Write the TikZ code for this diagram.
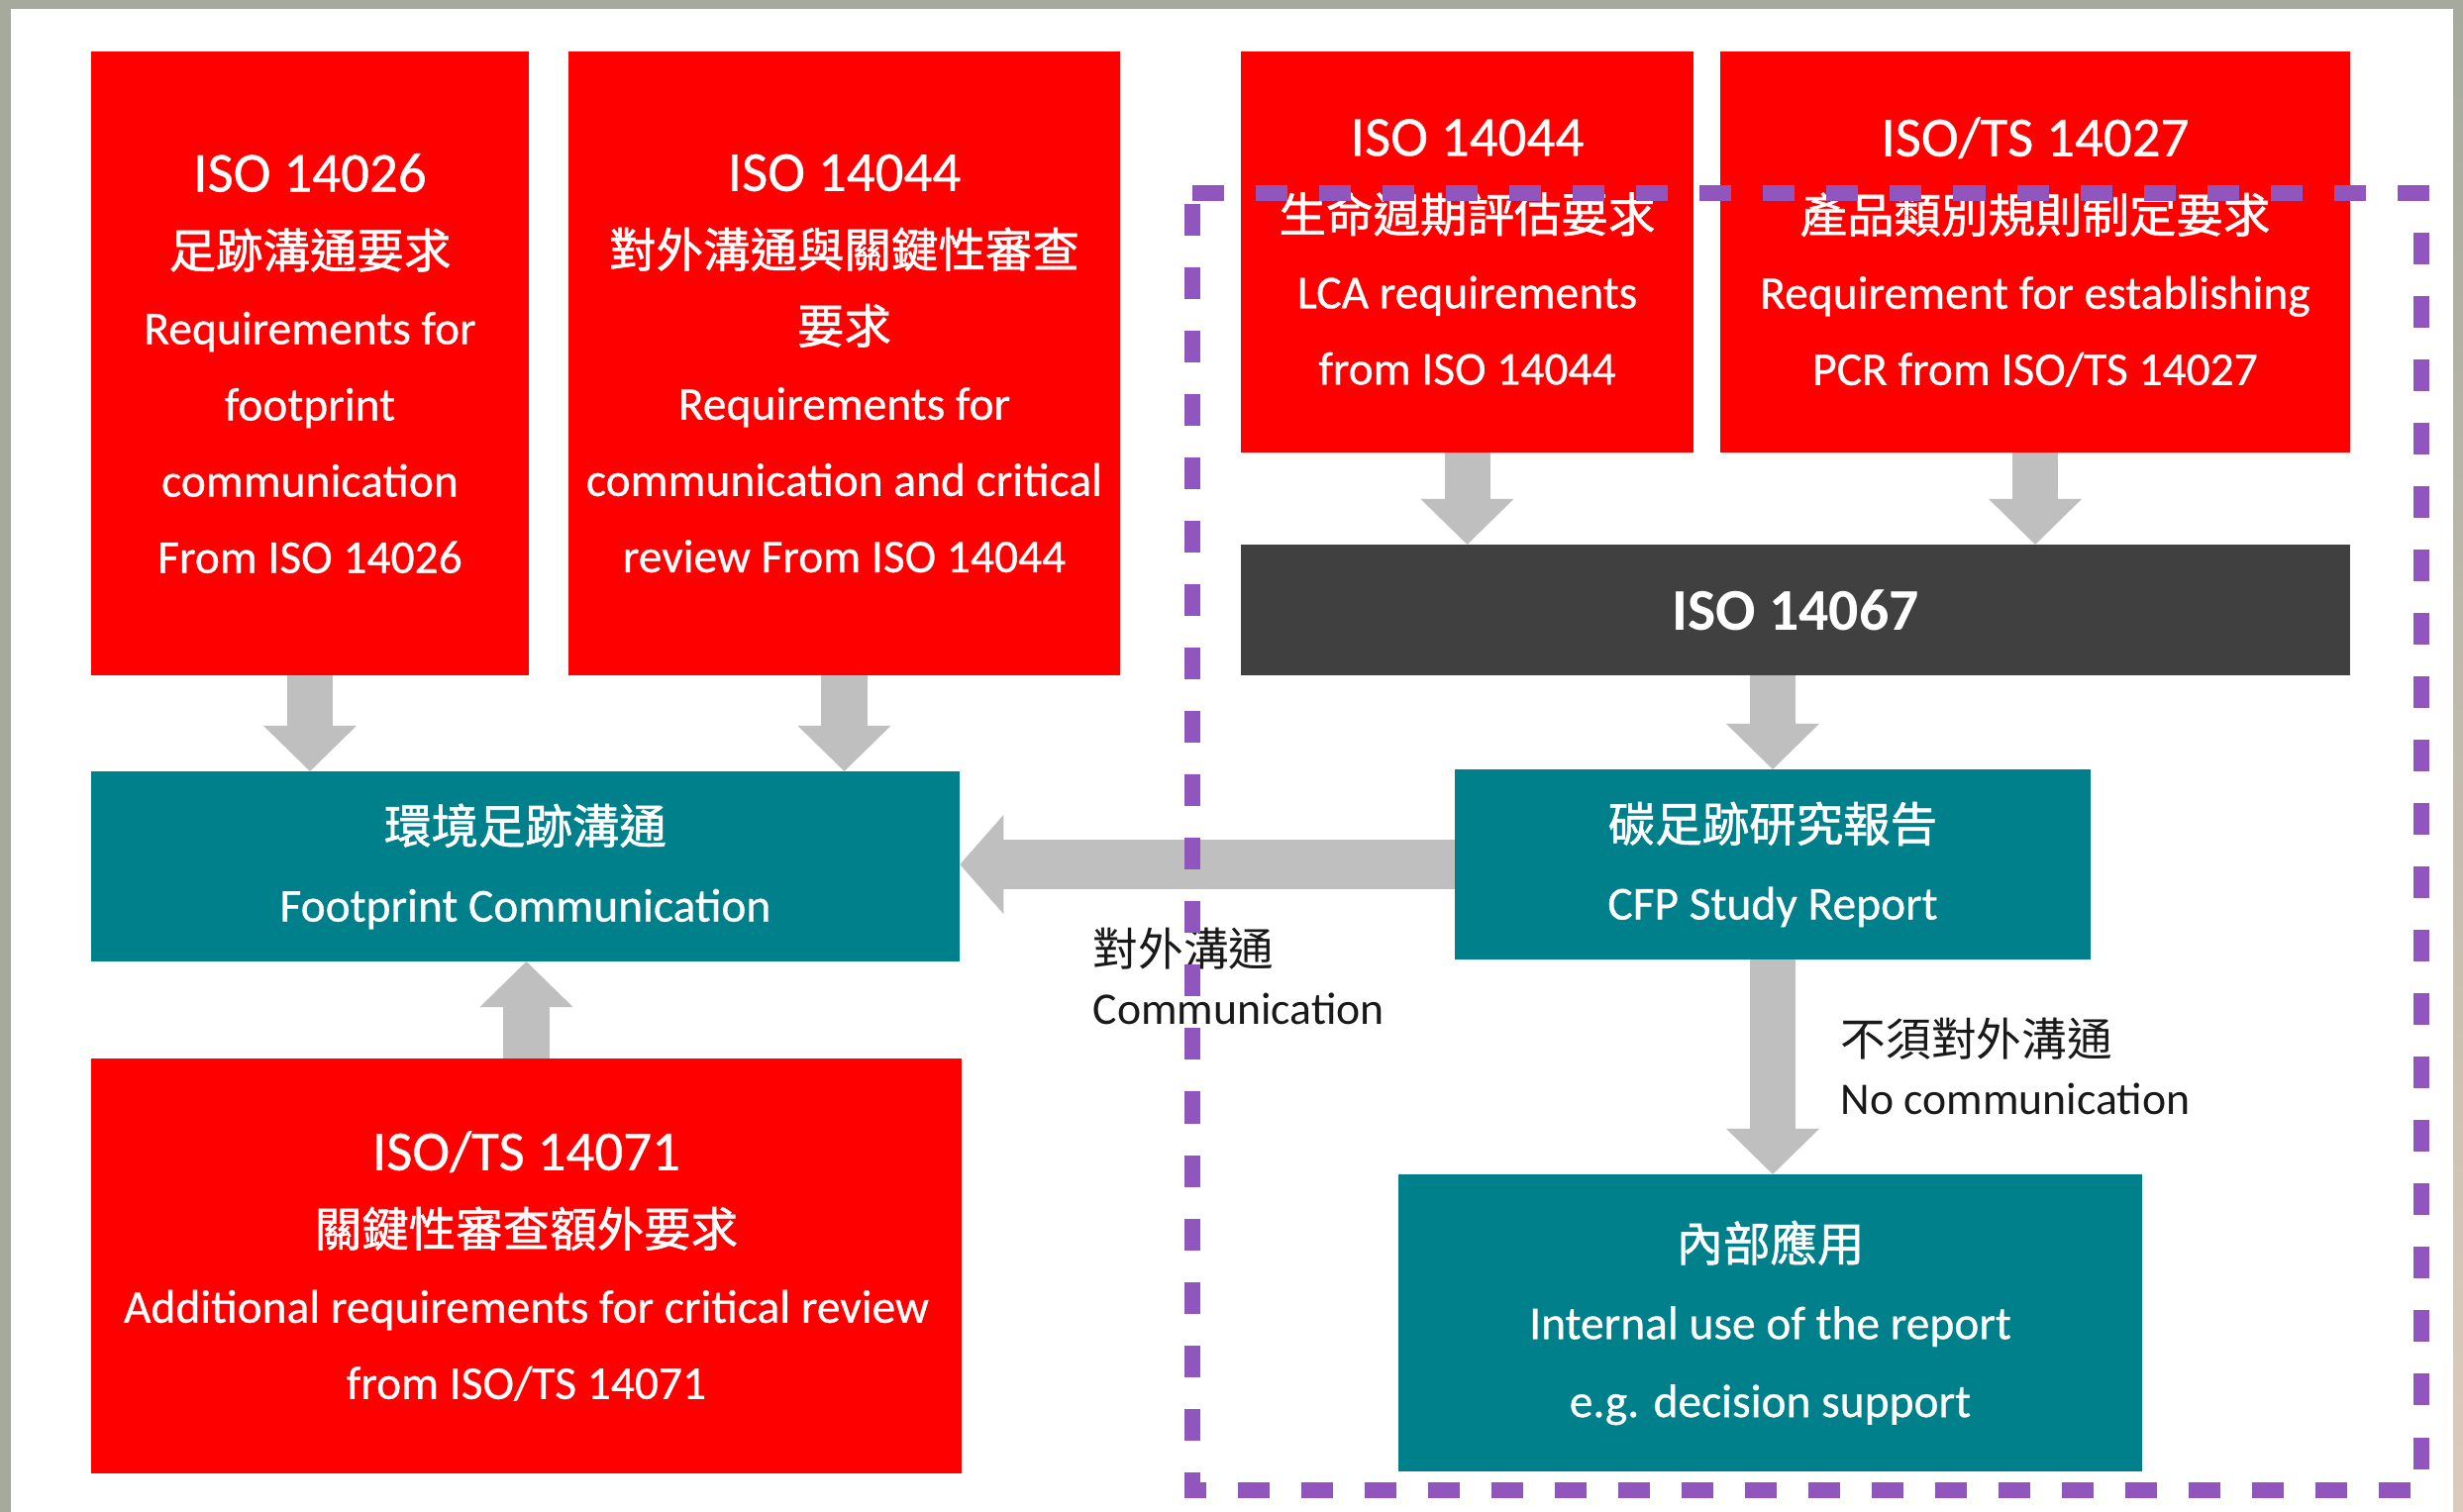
\documentclass[tikz,border=0pt]{standalone}
\usepackage{fontspec}
\setmainfont{Carlito}
\newfontfamily\cjkfont{Noto Sans CJK TC}
\newfontfamily\cjkboxfont{Noto Sans CJK TC}[FakeBold=1.2]
\newfontfamily\boxlatin{Carlito}[FakeBold=0.6]
\usetikzlibrary{arrows.meta}
\definecolor{isored}{HTML}{FE0000}
\definecolor{isoteal}{HTML}{00808A}
\definecolor{isodark}{HTML}{404040}
\definecolor{arrgray}{HTML}{BFBFBF}
\definecolor{frameviolet}{HTML}{9155BE}
\definecolor{bggray}{HTML}{A5AA9C}
\definecolor{bgbeige}{HTML}{DCCBBD}
\newcommand\isottl[1]{{\fontsize{16.2}{21.9}\selectfont #1}}
\newcommand\zhtxt[1]{{\cjkfont #1}}
\newcommand\zhbox[1]{{\cjkboxfont #1}}
\tikzset{
  box/.style={inner sep=0pt, outer sep=0pt, text=white, align=center,
    font=\boxlatin\fontsize{13.5}{21.9}\selectfont},
  redbox/.style={box, fill=isored},
  tealbox/.style={box, fill=isoteal, font=\boxlatin\fontsize{13.5}{22.4}\selectfont},
  darkbox/.style={box, fill=isodark, font=\fontsize{17}{21.9}\selectfont\bfseries},
  flow/.style={draw=arrgray, line width=0.46cm,
    -{Triangle[width=0.94cm,length=0.46cm,line width=0pt]}},
  bigflow/.style={draw=arrgray, line width=0.50cm,
    -{Triangle[width=1.00cm,length=0.44cm,line width=0pt]}},
  lbl/.style={inner sep=0pt, align=left, text=black!90,
    font=\fontsize{13}{16.8}\selectfont},
  frame/.style={draw=frameviolet, line width=0.16cm, dash pattern=on 0.32cm off 0.32cm}
}
\begin{document}
\begin{tikzpicture}[x=0.01cm,y=-0.01cm]
\useasboundingbox (0,0) rectangle (2487,1527);
% background
\fill[white] (0,0) rectangle (2487,1527);
\fill[bggray] (0,0) rectangle (2487,9);
\fill[bggray] (0,0) rectangle (11,1527);
\shade[top color=bggray, bottom color=bgbeige] (2477,0) rectangle (2487,1527);

% boxes
\node[redbox, minimum width=4.42cm, minimum height=6.30cm] (r14026) at (313,367)
  {\isottl{ISO 14026}\\ \zhbox{足跡溝通要求}\\ Requirements for\\ footprint\\ communication\\ From ISO 14026};
\node[redbox, minimum width=5.57cm, minimum height=6.30cm] (r14044a) at (852.5,367)
  {\isottl{ISO 14044}\\ \zhbox{對外溝通與關鍵性審查}\\ \zhbox{要求}\\ Requirements for\\ communication and critical\\ review From ISO 14044};
\node[redbox, minimum width=4.57cm, minimum height=4.05cm] (r14044b) at (1481.5,254.5)
  {\isottl{ISO 14044}\\ \zhbox{生命週期評估要求}\\ LCA requirements\\ from ISO 14044};
\node[redbox, minimum width=6.36cm, minimum height=4.05cm] (r14027) at (2055,254.5)
  {\isottl{ISO/TS 14027}\\ \zhbox{產品類別規則制定要求}\\ Requirement for establishing\\ PCR from ISO/TS 14027};
\node[darkbox, minimum width=11.20cm, minimum height=1.32cm] (d14067) at (1813,616) {ISO 14067};
\node[tealbox, minimum width=8.77cm, minimum height=1.92cm] (fpcomm) at (530.5,875)
  {\zhbox{環境足跡溝通}\\ Footprint Communication};
\node[tealbox, minimum width=6.42cm, minimum height=1.92cm] (cfp) at (1790,873)
  {\zhbox{碳足跡研究報告}\\ CFP Study Report};
\node[redbox, minimum width=8.79cm, minimum height=4.19cm] (r14071) at (531.5,1278.5)
  {\isottl{ISO/TS 14071}\\ \zhbox{關鍵性審查額外要求}\\ Additional requirements for critical review\\ from ISO/TS 14071};
\node[tealbox, minimum width=7.51cm, minimum height=3.00cm] (internal) at (1787.5,1336)
  {\zhbox{內部應用}\\ Internal use of the report\\ e.g. decision support};

% connectors
\draw[flow] (r14026.south) -- (r14026.south |- fpcomm.north);
\draw[flow] (r14044a.south) -- (r14044a.south |- fpcomm.north);
\draw[flow] (r14071.north) -- (r14071.north |- fpcomm.south);
\draw[flow] (r14044b.south) -- (r14044b.south |- d14067.north);
\draw[flow] (r14027.south) -- (r14027.south |- d14067.north);
\draw[flow] (cfp.north |- d14067.south) -- (cfp.north);
\draw[flow] (cfp.south) -- (cfp.south |- internal.north);
\draw[bigflow] (cfp.west) -- (cfp.west -| fpcomm.east);

% labels
\node[lbl, anchor=west] (commlbl) at (1103,986) {\zhtxt{對外溝通}\\ Communication};
\node[lbl, anchor=west] (nocommlbl) at (1858,1077) {\zhtxt{不須對外溝通}\\ No communication};

% dashed frame
\coordinate (ftl) at (1204,195);
\coordinate (ftr) at (2445,195);
\coordinate (fbr) at (2445,1505);
\coordinate (fbl) at (1204,1505);
\draw[frame] (ftl) -- (ftr) -- (fbr) -- (fbl) -- cycle;
\end{tikzpicture}
\end{document}
